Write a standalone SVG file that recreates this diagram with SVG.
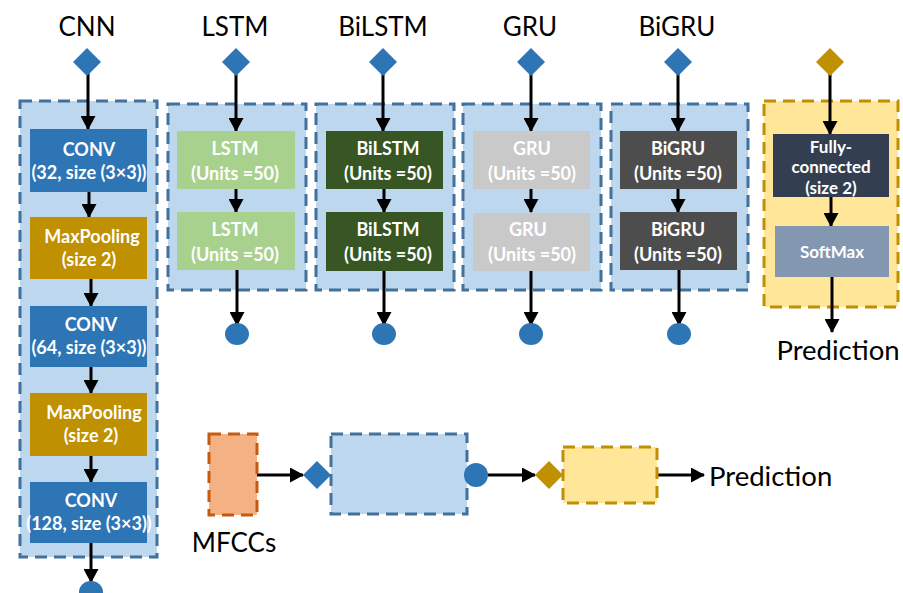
<svg xmlns="http://www.w3.org/2000/svg" width="903" height="593" viewBox="0 0 903 593">
<defs>
<style>
.title{font-family:Lato,"Liberation Sans",sans-serif;font-size:26px;fill:#000;text-anchor:middle}
.pred{font-family:Lato,"Liberation Sans",sans-serif;font-size:27.5px;fill:#000}
.bt{font-family:Lato,"Liberation Sans",sans-serif;font-size:18px;font-weight:bold;fill:#fff;text-anchor:middle}
.st{font-family:Lato,"Liberation Sans",sans-serif;font-size:17px;font-weight:bold;fill:#fff;text-anchor:middle}
.cb{fill:#BDD7EE;stroke:#41719C;stroke-width:3;stroke-dasharray:12 7}
.yb{fill:#FFE699;stroke:#BF9000;stroke-width:3;stroke-dasharray:12 7}
.ob{fill:#F4B183;stroke:#C55A11;stroke-width:3;stroke-dasharray:12 7}
.dia{fill:#2E75B6}
.gdia{fill:#BF9000}
.circ{fill:#2E75B6}
.ar{stroke:#000;stroke-width:3;fill:none;marker-end:url(#ah)}
.conv{fill:#2E75B6}
.pool{fill:#BF9000}
.lstm{fill:#A9D18E}
.bilstm{fill:#375623}
.gru{fill:#C9C9C9}
.bigru{fill:#4D4D4D}
.fc{fill:#333F50}
.sm{fill:#8497B0}
</style>
<marker id="ah" viewBox="0 0 14 15" refX="13" refY="7.5" markerWidth="14" markerHeight="15" markerUnits="userSpaceOnUse" orient="auto">
<path d="M0,0 L14,7.5 L0,15 z" fill="#000"/>
</marker>
</defs>

<g id="containers">
<rect id="cnn-box" class="cb" x="20" y="101" width="137" height="456"/>
<rect id="lstm-box" class="cb" x="168" y="104" width="138" height="186"/>
<rect id="bilstm-box" class="cb" x="316" y="104" width="138" height="186"/>
<rect id="gru-box" class="cb" x="463" y="104" width="138" height="186"/>
<rect id="bigru-box" class="cb" x="611" y="104" width="137" height="186"/>
<rect id="dense-box" class="yb" x="764" y="101" width="134" height="206"/>
</g>

<g id="titles">
<text class="title" x="87" y="36">CNN</text>
<text class="title" x="235" y="36">LSTM</text>
<text class="title" x="383" y="36">BiLSTM</text>
<text class="title" x="530" y="36">GRU</text>
<text class="title" x="677" y="36">BiGRU</text>
</g>

<g id="connectors">
<line class="ar" x1="88" y1="70" x2="88" y2="129"/>
<line class="ar" x1="89" y1="192" x2="89" y2="217"/>
<line class="ar" x1="91" y1="279" x2="91" y2="306"/>
<line class="ar" x1="91" y1="367" x2="91" y2="393"/>
<line class="ar" x1="91" y1="456" x2="91" y2="482"/>
<line class="ar" x1="91" y1="543" x2="91" y2="582"/>

<line class="ar" x1="236" y1="70" x2="236" y2="131"/>
<line class="ar" x1="236" y1="189" x2="236" y2="212"/>
<line class="ar" x1="237" y1="270" x2="237" y2="325"/>

<line class="ar" x1="383" y1="70" x2="383" y2="131"/>
<line class="ar" x1="384" y1="189" x2="384" y2="212"/>
<line class="ar" x1="384" y1="270" x2="384" y2="325"/>

<line class="ar" x1="531" y1="70" x2="531" y2="131"/>
<line class="ar" x1="531" y1="189" x2="531" y2="212"/>
<line class="ar" x1="531" y1="270" x2="531" y2="325"/>

<line class="ar" x1="678" y1="70" x2="678" y2="131"/>
<line class="ar" x1="678" y1="189" x2="678" y2="212"/>
<line class="ar" x1="679" y1="270" x2="679" y2="325"/>

<line class="ar" x1="830" y1="70" x2="830" y2="134"/>
<line class="ar" x1="831" y1="197" x2="831" y2="226"/>
<line class="ar" x1="832" y1="277" x2="832" y2="332"/>

<line class="ar" x1="257" y1="475" x2="303" y2="475"/>
<line class="ar" x1="488" y1="475" x2="535" y2="475"/>
<line class="ar" x1="657" y1="475" x2="704" y2="475"/>
</g>

<g id="inputs">
<polygon class="dia" points="87,48 101,62 87,76 73,62"/>
<polygon class="dia" points="236,48 250,62 236,76 222,62"/>
<polygon class="dia" points="383,48 397,62 383,76 369,62"/>
<polygon class="dia" points="531,48 545,62 531,76 517,62"/>
<polygon class="dia" points="678,48 692,62 678,76 664,62"/>
<polygon class="gdia" points="830,48 844,62 830,76 816,62"/>
</g>

<g id="outputs">
<ellipse class="circ" cx="91" cy="592" rx="12" ry="11"/>
<ellipse class="circ" cx="237" cy="334" rx="12" ry="11"/>
<ellipse class="circ" cx="384" cy="334" rx="12" ry="11"/>
<ellipse class="circ" cx="531" cy="334" rx="12" ry="11"/>
<ellipse class="circ" cx="679" cy="334" rx="12" ry="11"/>
<text class="pred" x="838" y="360" text-anchor="middle">Prediction</text>
</g>

<g id="cnn-conv1"><rect class="conv" x="30" y="129" width="117" height="63"/>
<text class="bt" x="89" y="156">CONV</text><text class="bt" x="89" y="179">(32, size (3×3))</text></g>
<g id="cnn-pool1"><rect class="pool" x="30" y="217" width="117" height="62"/>
<text class="bt" x="92" y="243">MaxPooling</text><text class="bt" x="89" y="266">(size 2)</text></g>
<g id="cnn-conv2"><rect class="conv" x="30" y="306" width="117" height="61"/>
<text class="bt" x="91" y="331">CONV</text><text class="bt" x="89" y="354">(64, size (3×3))</text></g>
<g id="cnn-pool2"><rect class="pool" x="30" y="393" width="117" height="63"/>
<text class="bt" x="94" y="419">MaxPooling</text><text class="bt" x="91" y="442">(size 2)</text></g>
<g id="cnn-conv3"><rect class="conv" x="30" y="482" width="117" height="61"/>
<text class="bt" x="91" y="507">CONV</text><text class="bt" x="89" y="530">(128, size (3×3))</text></g>

<g id="lstm1"><rect class="lstm" x="177" y="131" width="118" height="58"/>
<text class="bt" x="235" y="155">LSTM</text><text class="bt" x="235" y="180">(Units =50)</text></g>
<g id="lstm2"><rect class="lstm" x="177" y="212" width="118" height="58"/>
<text class="bt" x="235" y="236">LSTM</text><text class="bt" x="235" y="261">(Units =50)</text></g>

<g id="bilstm1"><rect class="bilstm" x="326" y="131" width="117" height="58"/>
<text class="bt" x="388" y="155">BiLSTM</text><text class="bt" x="388" y="180">(Units =50)</text></g>
<g id="bilstm2"><rect class="bilstm" x="326" y="212" width="117" height="59"/>
<text class="bt" x="388" y="236">BiLSTM</text><text class="bt" x="388" y="261">(Units =50)</text></g>

<g id="gru1"><rect class="gru" x="473" y="131" width="117" height="58"/>
<text class="bt" x="532" y="155">GRU</text><text class="bt" x="532" y="180">(Units =50)</text></g>
<g id="gru2"><rect class="gru" x="473" y="213" width="117" height="58"/>
<text class="bt" x="528" y="236">GRU</text><text class="bt" x="532" y="261">(Units =50)</text></g>

<g id="bigru1"><rect class="bigru" x="620" y="131" width="117" height="58"/>
<text class="bt" x="678" y="155">BiGRU</text><text class="bt" x="678" y="180">(Units =50)</text></g>
<g id="bigru2"><rect class="bigru" x="620" y="212" width="117" height="58"/>
<text class="bt" x="678" y="236">BiGRU</text><text class="bt" x="678" y="261">(Units =50)</text></g>

<g id="fully-connected"><rect class="fc" x="773" y="134" width="116" height="63"/>
<text class="st" x="831" y="153">Fully-</text><text class="st" x="831" y="173">connected</text><text class="st" x="831" y="194">(size 2)</text></g>
<g id="softmax"><rect class="sm" x="775" y="226" width="114" height="51"/>
<text class="st" x="832" y="258">SoftMax</text></g>

<g id="legend-mfcc"><rect class="ob" x="209" y="434" width="48" height="81"/>
<text class="title" x="234" y="552">MFCCs</text></g>
<g id="legend-input"><polygon class="dia" points="317,461 331,475 317,489 303,475"/></g>
<g id="legend-model"><rect class="cb" x="331" y="434" width="136" height="80"/></g>
<g id="legend-output"><circle class="circ" cx="476" cy="475" r="12"/></g>
<g id="legend-dense-input"><polygon class="gdia" points="549,461 563,475 549,489 535,475"/></g>
<g id="legend-dense"><rect class="yb" x="563" y="447" width="94" height="56"/></g>
<g id="legend-prediction"><text class="pred" x="709" y="486">Prediction</text></g>
</svg>
